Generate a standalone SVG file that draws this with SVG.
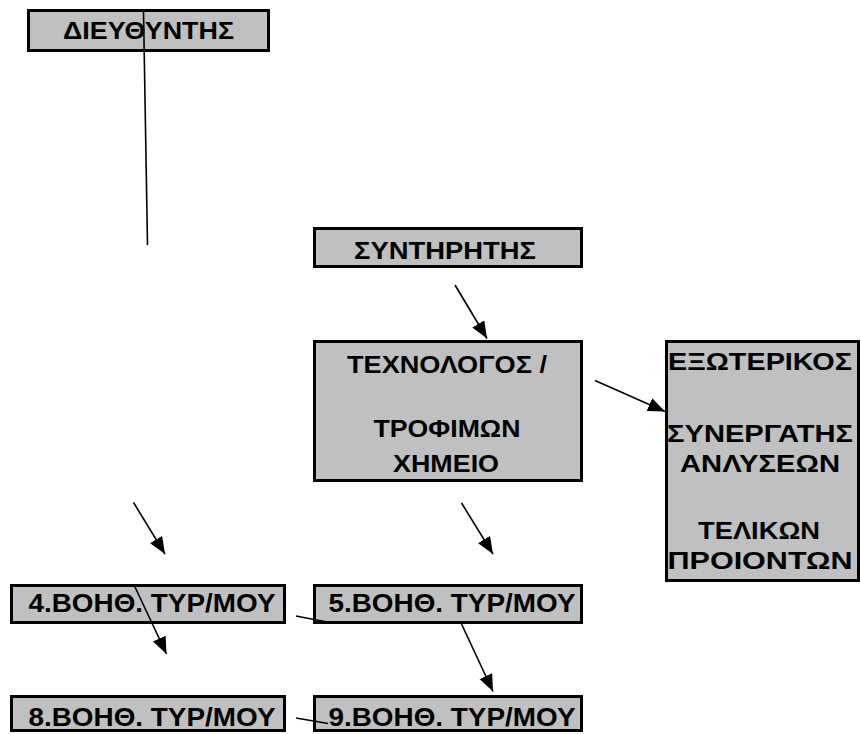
<svg xmlns="http://www.w3.org/2000/svg" width="861" height="734" viewBox="0 0 861 734">
<style>
.box{fill:#c0c0c0;stroke:#000;stroke-width:3}
.t{font-family:"Liberation Sans",Arial,sans-serif;font-weight:bold;font-size:23px;fill:#000;text-anchor:middle}
.b{font-size:25.5px}
.c{stroke:#000;stroke-width:1.6;fill:none}
</style>
<defs>
<marker id="ah" markerUnits="userSpaceOnUse" markerWidth="20" markerHeight="16" refX="17" refY="7" orient="auto">
<path d="M0,0 L17,7 L0,14 Z" fill="#000"/>
</marker>
</defs>
<rect width="861" height="734" fill="#fff"/>
<g id="n-dieythyntis">
<rect class="box" x="28.5" y="10.5" width="240" height="40"/>
<text class="t" x="148.5" y="39" textLength="171" lengthAdjust="spacingAndGlyphs">ΔΙΕΥΘΥΝΤΗΣ</text>
</g>
<g id="n-syntiritis">
<rect class="box" x="314.5" y="228.5" width="267" height="38"/>
<text class="t" x="445" y="258.5" textLength="182" lengthAdjust="spacingAndGlyphs">ΣΥΝΤΗΡΗΤΗΣ</text>
</g>
<g id="n-technologos">
<rect class="box" x="314.5" y="341.5" width="267" height="139"/>
<text class="t" x="447" y="373" textLength="200" lengthAdjust="spacingAndGlyphs">ΤΕΧΝΟΛΟΓΟΣ /</text>
<text class="t" x="447" y="436.5" textLength="147" lengthAdjust="spacingAndGlyphs">ΤΡΟΦΙΜΩΝ</text>
<text class="t" x="446" y="472" textLength="106" lengthAdjust="spacingAndGlyphs">ΧΗΜΕΙΟ</text>
</g>
<g id="n-exoterikos">
<rect class="box" x="666.5" y="341.5" width="192" height="239"/>
<text class="t" x="760" y="369.5" textLength="184" lengthAdjust="spacingAndGlyphs">ΕΞΩΤΕΡΙΚΟΣ</text>
<text class="t" x="760" y="442" textLength="186" lengthAdjust="spacingAndGlyphs">ΣΥΝΕΡΓΑΤΗΣ</text>
<text class="t" x="760" y="472" textLength="160" lengthAdjust="spacingAndGlyphs">ΑΝΛΥΣΕΩΝ</text>
<text class="t" x="759" y="539" textLength="122" lengthAdjust="spacingAndGlyphs">ΤΕΛΙΚΩΝ</text>
<text class="t" x="760" y="569" textLength="185" lengthAdjust="spacingAndGlyphs">ΠΡΟΙΟΝΤΩΝ</text>
</g>
<g id="n-voith4">
<rect class="box" x="11.5" y="585.5" width="273" height="37"/>
<text class="t b" x="152" y="612" textLength="247" lengthAdjust="spacingAndGlyphs">4.ΒΟΗΘ. ΤΥΡ/ΜΟΥ</text>
</g>
<g id="n-voith5">
<rect class="box" x="314.5" y="585.5" width="267" height="37"/>
<text class="t b" x="452" y="612" textLength="247" lengthAdjust="spacingAndGlyphs">5.ΒΟΗΘ. ΤΥΡ/ΜΟΥ</text>
</g>
<g id="n-voith8">
<rect class="box" x="11.5" y="696.5" width="273" height="34"/>
<text class="t b" x="152" y="726" textLength="247" lengthAdjust="spacingAndGlyphs">8.ΒΟΗΘ. ΤΥΡ/ΜΟΥ</text>
</g>
<g id="n-voith9">
<rect class="box" x="314.5" y="696.5" width="267" height="34"/>
<text class="t b" x="452" y="726" textLength="247" lengthAdjust="spacingAndGlyphs">9.ΒΟΗΘ. ΤΥΡ/ΜΟΥ</text>
</g>
<g id="connectors">
<line class="c" x1="143.5" y1="11" x2="147.5" y2="245"/>
<line class="c" x1="455" y1="285" x2="487" y2="338.5" marker-end="url(#ah)"/>
<line class="c" x1="595" y1="380.5" x2="665" y2="411.5" marker-end="url(#ah)"/>
<line class="c" x1="133.5" y1="502.5" x2="165" y2="554" marker-end="url(#ah)"/>
<line class="c" x1="461.5" y1="503" x2="493" y2="554" marker-end="url(#ah)"/>
<line class="c" x1="135" y1="587" x2="166.5" y2="654" marker-end="url(#ah)"/>
<line class="c" x1="461.5" y1="624" x2="493" y2="691.5" marker-end="url(#ah)"/>
<line class="c" x1="296" y1="616" x2="327" y2="622"/>
<line class="c" x1="296" y1="718" x2="328" y2="723.5"/>
</g>
</svg>
